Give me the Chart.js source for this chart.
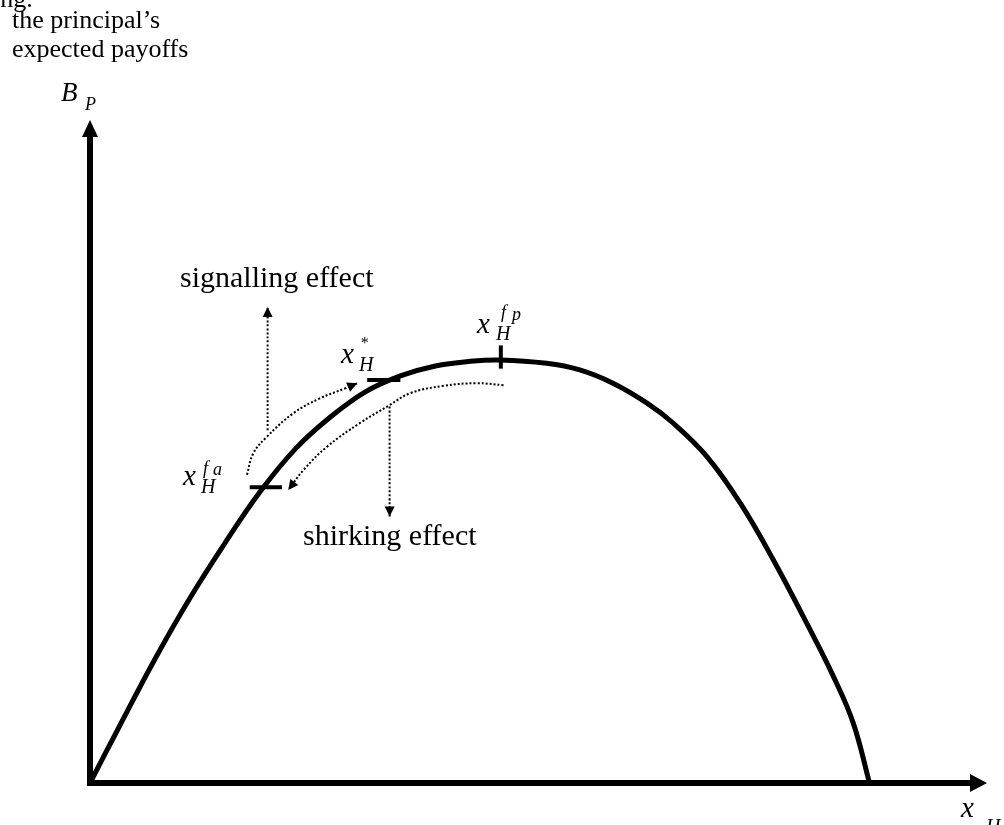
<!DOCTYPE html>
<html>
<head>
<meta charset="utf-8">
<script src="https://cdn.jsdelivr.net/npm/chart.js@4"></script>
<style>
  html, body { margin: 0; padding: 0; background: #fff; }
  #payoffChart { display: block; }
</style>
</head>
<body>
<canvas id="payoffChart" width="1004" height="825"></canvas>
<script>
// principal's expected payoff B_P against x_H (diagram units, axes run 0..100)
const curveX = [0, 3.3, 7.2, 11.1, 15.1, 19.0, 22.9, 26.8, 30.7, 34.6, 38.5, 42.4, 45.7, 50.9, 54.6, 58.3, 62.1, 65.0, 68.8, 72.5, 76.2, 79.9, 82.9, 85.1, 86.9];
const curveY = [0, 8.6, 18.6, 27.8, 36.3, 44.0, 50.4, 55.2, 59.0, 61.4, 62.9, 63.6, 63.8, 63.3, 62.3, 60.3, 57.3, 54.3, 49.2, 42.2, 33.6, 24.1, 16.0, 9.0, 0];

// small marks on the curve
const faMarkX = [17.8, 21.4];
const faMarkY = [44.6, 44.6];
const starMarkX = [30.9, 34.6];
const starMarkY = [60.8, 60.8];
const fpMarkX = [45.8, 45.8];
const fpMarkY = [62.5, 66.0];

// dotted arrows
const signalArcX = [17.5, 18.2, 19.7, 22.7, 25.6, 28.4, 29.8];
const signalArcY = [46.5, 49.7, 52.2, 55.8, 58.0, 59.5, 60.3];
const signalUpX = [19.8, 19.8];
const signalUpY = [53.2, 71.8];
const shirkArcX = [46.1, 43.1, 39.4, 35.7, 33.4, 30.1, 26.4, 23.8, 22.1];
const shirkArcY = [60.0, 60.3, 59.9, 58.8, 57.0, 54.3, 50.7, 47.2, 44.2];
const shirkDownX = [33.4, 33.4];
const shirkDownY = [56.8, 40.2];

function pts(xs, ys) {
  return xs.map((x, i) => ({ x: x, y: ys[i] }));
}

function solid(data, width) {
  return { data: data, borderColor: '#000', borderWidth: width, pointRadius: 0, fill: false, clip: false, borderCapStyle: 'butt' };
}

function dotted(data) {
  return { data: data, borderColor: '#000', borderWidth: 2, borderDash: [2, 2], pointRadius: 0, fill: false, clip: false, tension: 0.4, arrow: true };
}

function arrowHead(ctx, x, y, angle, len, half) {
  ctx.save();
  ctx.translate(x, y);
  ctx.rotate(angle);
  ctx.beginPath();
  ctx.moveTo(0, 0);
  ctx.lineTo(-len, -half);
  ctx.lineTo(-len, half);
  ctx.closePath();
  ctx.fill();
  ctx.restore();
}

const diagramPlugin = {
  id: 'diagram',
  afterDatasetsDraw(chart) {
    const ctx = chart.ctx;
    const xs = chart.scales.x, ys = chart.scales.y;
    const ox = xs.getPixelForValue(0), oy = ys.getPixelForValue(0);
    const xEnd = xs.getPixelForValue(100), yEnd = ys.getPixelForValue(100);
    ctx.save();
    ctx.fillStyle = '#000';
    ctx.strokeStyle = '#000';

    // axes
    ctx.lineWidth = 6;
    ctx.beginPath();
    ctx.moveTo(ox, oy + 3);
    ctx.lineTo(ox, yEnd + 16);
    ctx.moveTo(ox - 3, oy);
    ctx.lineTo(xEnd - 17, oy);
    ctx.stroke();
    arrowHead(ctx, ox, yEnd, -Math.PI / 2, 17, 8);
    arrowHead(ctx, xEnd, oy, 0, 17, 9);

    // arrowheads at the end of dotted arrows
    chart.data.datasets.forEach((ds, i) => {
      if (!ds.arrow) return;
      const els = chart.getDatasetMeta(i).data;
      const a = els[els.length - 2], b = els[els.length - 1];
      arrowHead(ctx, b.x, b.y, Math.atan2(b.y - a.y, b.x - a.x), 10, 5);
    });

    // text
    ctx.textBaseline = 'alphabetic';
    ctx.textAlign = 'left';
    ctx.font = '26px "Liberation Serif", serif';
    ctx.fillText('ing.', -7, 7);
    ctx.fillText('the principal\u2019s', 12, 28);
    ctx.fillText('expected payoffs', 12, 57);
    ctx.font = '30px "Liberation Serif", serif';
    ctx.fillText('signalling effect', 180, 287);
    ctx.fillText('shirking effect', 303, 545);

    const it = s => 'italic ' + s + 'px "Liberation Serif", serif';
    // B_P
    ctx.font = it(27); ctx.fillText('B', 61, 101);
    ctx.font = it(18); ctx.fillText('P', 85, 110);
    // x_H on the horizontal axis
    ctx.font = it(29); ctx.fillText('x', 961, 817);
    ctx.font = it(20); ctx.fillText('H', 986, 833);
    // x_H^fa
    ctx.font = it(29); ctx.fillText('x', 183, 485);
    ctx.font = it(20); ctx.fillText('H', 201, 493);
    ctx.font = it(18); ctx.fillText('f', 203, 474); ctx.fillText('a', 213, 475);
    // x_H^*
    ctx.font = it(29); ctx.fillText('x', 341, 363);
    ctx.font = it(20); ctx.fillText('H', 359, 371);
    ctx.font = it(16); ctx.fillText('*', 360, 348);
    // x_H^fp
    ctx.font = it(29); ctx.fillText('x', 477, 333);
    ctx.font = it(20); ctx.fillText('H', 496, 340);
    ctx.font = it(18); ctx.fillText('f', 501, 318); ctx.fillText('p', 512, 320);
    ctx.restore();
  }
};

new Chart(document.getElementById('payoffChart'), {
  type: 'line',
  data: {
    datasets: [
      Object.assign(solid(pts(curveX, curveY), 5), { tension: 0.4 }),
      solid(pts(faMarkX, faMarkY), 4),
      solid(pts(starMarkX, starMarkY), 4),
      solid(pts(fpMarkX, fpMarkY), 4),
      dotted(pts(signalArcX, signalArcY)),
      dotted(pts(signalUpX, signalUpY)),
      dotted(pts(shirkArcX, shirkArcY)),
      dotted(pts(shirkDownX, shirkDownY))
    ]
  },
  options: {
    responsive: false,
    animation: false,
    layout: { padding: { left: 90, right: 17, top: 120, bottom: 42 } },
    scales: {
      x: { type: 'linear', min: 0, max: 100, display: false },
      y: { type: 'linear', min: 0, max: 100, display: false }
    },
    plugins: {
      legend: { display: false },
      tooltip: { enabled: false }
    }
  },
  plugins: [diagramPlugin]
});
</script>
</body>
</html>
